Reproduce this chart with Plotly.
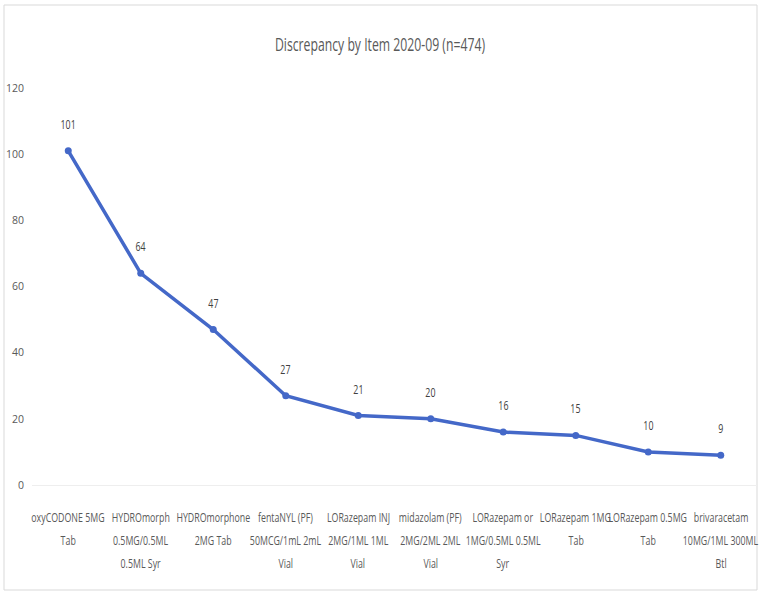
import plotly.graph_objects as go

# Discrepancy counts per item, September 2020
label_lines = [
    ["oxyCODONE 5MG", "Tab"],
    ["HYDROmorph", "0.5MG/0.5ML", "0.5ML Syr"],
    ["HYDROmorphone", "2MG Tab"],
    ["fentaNYL (PF)", "50MCG/1mL 2mL", "Vial"],
    ["LORazepam INJ", "2MG/1ML 1ML", "Vial"],
    ["midazolam (PF)", "2MG/2ML 2ML", "Vial"],
    ["LORazepam or", "1MG/0.5ML 0.5ML", "Syr"],
    ["LORazepam 1MG", "Tab"],
    ["LORazepam 0.5MG", "Tab"],
    ["brivaracetam", "10MG/1ML 300ML", "Btl"],
]
items = [" ".join(parts) for parts in label_lines]
counts = [101, 64, 47, 27, 21, 20, 16, 15, 10, 9]
y_ticks = [0, 20, 40, 60, 80, 100, 120]

FONT = "Open Sans, sans-serif"
LINE_BLUE = "#4468C8"
TEXT_GRAY = "#595959"

fig = go.Figure()
fig.add_trace(go.Scatter(
    x=items, y=counts, mode="lines+markers",
    line=dict(color=LINE_BLUE, width=3.5),
    marker=dict(color=LINE_BLUE, size=7, symbol="circle"),
    hoverinfo="x+y", showlegend=False,
))

annotations = []
# value labels above each point
for item, v in zip(items, counts):
    annotations.append(dict(
        x=item, y=v, xref="x", yref="y", text=str(v), showarrow=False,
        yshift=27, font=dict(family=FONT, size=13, color="#404040"),
    ))
# wrapped category labels under the axis
for item, parts in zip(items, label_lines):
    for i, line in enumerate(parts):
        annotations.append(dict(
            x=item, y=0, xref="x", yref="y", text=line, showarrow=False,
            yshift=-32 - 23 * i, font=dict(family=FONT, size=13, color=TEXT_GRAY),
        ))

fig.update_layout(
    width=760, height=594,
    margin=dict(l=32, r=3, t=88, b=109),
    paper_bgcolor="white", plot_bgcolor="white",
    title=dict(text="Discrepancy by Item 2020-09 (n=474)", x=0.5, xanchor="center",
               y=1 - 45 / 594, yanchor="middle",
               font=dict(family=FONT, size=18, color=TEXT_GRAY)),
    xaxis=dict(type="category", showgrid=False, showticklabels=False, ticks="",
               showline=True, linecolor="#eeeeee", linewidth=1, zeroline=False,
               range=[-0.5, len(items) - 0.5]),
    yaxis=dict(range=[0, 120], tickvals=y_ticks, showgrid=False, zeroline=False,
               showline=False, ticks="", ticklabelstandoff=7,
               tickfont=dict(family=FONT, size=10.5, color=TEXT_GRAY)),
    annotations=annotations,
    shapes=[dict(type="rect", xref="paper", yref="paper",
                 x0=(4 - 32) / 725, x1=(757 - 32) / 725,
                 y0=(485 - 590) / 397, y1=(485 - 5) / 397,
                 line=dict(color="#d9d9d9", width=1), layer="below")],
)

# narrow lettering for the title and the annotation texts
condensed_css = (
    "var s=document.createElement('style');"
    "s.textContent='.main-svg text.annotation-text, .main-svg text.gtitle{"
    "transform-box:fill-box;transform-origin:center;transform:scaleX(0.68);}';"
    "document.head.appendChild(s);"
)
fig.write_html("out.html", post_script=condensed_css)
